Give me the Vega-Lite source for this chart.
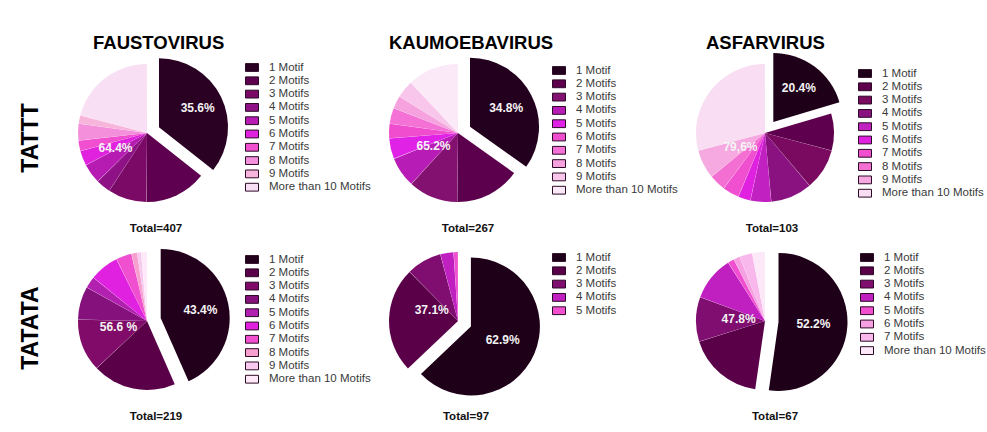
{
  "$schema": "https://vega.github.io/schema/vega-lite/v6.json",
  "background": "white",
  "padding": {"left": 2, "top": 34, "right": 0, "bottom": 0},
  "config": {
    "view": {"stroke": null},
    "font": "Liberation Sans",
    "title": {"font": "Liberation Sans", "fontSize": 18.5, "fontWeight": "bold", "color": "#000000", "anchor": "start", "offset": -2.5},
    "legend": {
      "orient": "right", "offset": 13, "padding": 0,
      "symbolType": "M-1,-0.6H1V0.6H-1Z", "symbolSize": 169,
      "symbolStrokeColor": "#2b0a26", "symbolStrokeWidth": 1,
      "labelFont": "Liberation Sans", "labelFontSize": 11.5, "labelColor": "#3a3a3a", "labelOffset": 10,
      "rowPadding": 0.3, "titleFontSize": 2, "labelLimit": 200
    }
  },
  "datasets": {
    "fT": [
      {"motif": "1 Motif", "k": 1, "n": 145}, {"motif": "2 Motifs", "k": 2, "n": 59}, {"motif": "3 Motifs", "k": 3, "n": 37},
      {"motif": "4 Motifs", "k": 4, "n": 14}, {"motif": "5 Motifs", "k": 5, "n": 19}, {"motif": "6 Motifs", "k": 6, "n": 14},
      {"motif": "7 Motifs", "k": 7, "n": 10}, {"motif": "8 Motifs", "k": 8, "n": 16}, {"motif": "9 Motifs", "k": 9, "n": 8},
      {"motif": "More than 10 Motifs", "k": 11, "n": 85}
    ],
    "kT": [
      {"motif": "1 Motif", "k": 1, "n": 93}, {"motif": "2 Motifs", "k": 2, "n": 41}, {"motif": "3 Motifs", "k": 3, "n": 31},
      {"motif": "4 Motifs", "k": 4, "n": 19}, {"motif": "5 Motifs", "k": 5, "n": 13}, {"motif": "6 Motifs", "k": 6, "n": 9},
      {"motif": "7 Motifs", "k": 7, "n": 10}, {"motif": "8 Motifs", "k": 8, "n": 8}, {"motif": "9 Motifs", "k": 9, "n": 11},
      {"motif": "More than 10 Motifs", "k": 11, "n": 32}
    ],
    "aT": [
      {"motif": "1 Motif", "k": 1, "n": 21}, {"motif": "2 Motifs", "k": 2, "n": 9}, {"motif": "3 Motifs", "k": 3, "n": 10},
      {"motif": "4 Motifs", "k": 4, "n": 10}, {"motif": "5 Motifs", "k": 5, "n": 5}, {"motif": "6 Motifs", "k": 6, "n": 3},
      {"motif": "7 Motifs", "k": 7, "n": 4}, {"motif": "8 Motifs", "k": 8, "n": 4}, {"motif": "9 Motifs", "k": 9, "n": 7},
      {"motif": "More than 10 Motifs", "k": 11, "n": 30}
    ],
    "fA": [
      {"motif": "1 Motif", "k": 1, "n": 95}, {"motif": "2 Motifs", "k": 2, "n": 43}, {"motif": "3 Motifs", "k": 3, "n": 27},
      {"motif": "4 Motifs", "k": 4, "n": 17}, {"motif": "5 Motifs", "k": 5, "n": 6}, {"motif": "6 Motifs", "k": 6, "n": 15},
      {"motif": "7 Motifs", "k": 7, "n": 8}, {"motif": "8 Motifs", "k": 8, "n": 3}, {"motif": "9 Motifs", "k": 9, "n": 2},
      {"motif": "More than 10 Motifs", "k": 11, "n": 3}
    ],
    "kA": [
      {"motif": "1 Motif", "k": 1, "n": 61}, {"motif": "2 Motifs", "k": 2, "n": 24}, {"motif": "3 Motifs", "k": 3, "n": 8},
      {"motif": "4 Motifs", "k": 4, "n": 3}, {"motif": "5 Motifs", "k": 5, "n": 1}
    ],
    "aA": [
      {"motif": "1 Motif", "k": 1, "n": 35}, {"motif": "2 Motifs", "k": 2, "n": 12}, {"motif": "3 Motifs", "k": 3, "n": 7},
      {"motif": "4 Motifs", "k": 4, "n": 7}, {"motif": "5 Motifs", "k": 5, "n": 1}, {"motif": "6 Motifs", "k": 6, "n": 1},
      {"motif": "7 Motifs", "k": 7, "n": 2}, {"motif": "More than 10 Motifs", "k": 11, "n": 2}
    ],
    "fTl": [{"g": "a", "n": 145, "lab": "35.6%"}, {"g": "b", "n": 262, "lab": "64.4%"}],
    "kTl": [{"g": "a", "n": 93, "lab": "34.8%"}, {"g": "b", "n": 174, "lab": "65.2%"}],
    "aTl": [{"g": "a", "n": 21, "lab": "20.4%"}, {"g": "b", "n": 82, "lab": "79,6%"}],
    "fAl": [{"g": "a", "n": 95, "lab": "43.4%"}, {"g": "b", "n": 124, "lab": "56.6 %"}],
    "kAl": [{"g": "a", "n": 61, "lab": "62.9%"}, {"g": "b", "n": 36, "lab": "37.1%"}],
    "aAl": [{"g": "a", "n": 35, "lab": "52.2%"}, {"g": "b", "n": 32, "lab": "47.8%"}]
  },
  "spacing": 2,
  "resolve": {"scale": {"color": "independent", "theta": "independent"}, "legend": {"color": "independent"}},
  "hconcat": [
    {
      "title": {"text": " "},
      "spacing": 3,
      "vconcat": [
        {"width": 58, "height": 166,
         "title": {"text": " ", "orient": "bottom", "anchor": "middle", "fontSize": 11.5, "offset": 6.6},
         "data": {"values": [{"seq": "TATTT"}]},
         "mark": {"type": "text", "angle": 270, "fontSize": 23, "fontWeight": "bold", "fill": "#000000", "dx": -5},
         "encoding": {"text": {"field": "seq", "type": "nominal"}}},
        {"width": 58, "height": 166,
         "title": {"text": " ", "orient": "bottom", "anchor": "middle", "fontSize": 11.5, "offset": 6.6},
         "data": {"values": [{"seq": "TATATA"}]},
         "mark": {"type": "text", "angle": 270, "fontSize": 23, "fontWeight": "bold", "fill": "#000000", "dx": -7},
         "encoding": {"text": {"field": "seq", "type": "nominal"}}}
      ]
    },
    {
      "title": {"text": "FAUSTOVIRUS", "dx": 31},
      "spacing": 3,
      "resolve": {"scale": {"color": "independent", "theta": "independent"}, "legend": {"color": "independent"}},
      "vconcat": [
        {"width": 170, "height": 166,
         "title": {"text": "Total=407", "orient": "bottom", "anchor": "middle", "dx": 9, "fontSize": 11.5, "color": "#111111", "offset": 6.6},
         "layer": [
           {"data": {"name": "fT"}, "transform": [{"stack": "n", "groupby": [], "sort": [{"field": "k"}], "as": ["s0", "s1"]}, {"filter": "datum.k > 1"}],
            "mark": {"type": "arc", "radius": 69, "padAngle": 0.004},
            "encoding": {"theta": {"field": "s0", "type": "quantitative", "scale": {"domain": [0, 407]}}, "theta2": {"field": "s1"},
              "color": {"field": "motif", "type": "nominal", "scale": {"domain": ["1 Motif","2 Motifs","3 Motifs","4 Motifs","5 Motifs","6 Motifs","7 Motifs","8 Motifs","9 Motifs","More than 10 Motifs"], "range": ["#2a0023","#5e004f","#7b0a67","#8e1285","#b61cb2","#e021dd","#f04fcf","#f48fdc","#f7b5dc","#f9dff3"]}, "legend": {"title": " ", "titlePadding": 8.5}}}},
           {"data": {"name": "fT"}, "transform": [{"stack": "n", "groupby": [], "sort": [{"field": "k"}], "as": ["s0", "s1"]}, {"filter": "datum.k == 1"}],
            "mark": {"type": "arc", "radius": 69, "xOffset": 12, "yOffset": -5.8},
            "encoding": {"theta": {"field": "s0", "type": "quantitative", "scale": {"domain": [0, 407]}}, "theta2": {"field": "s1"},
              "color": {"field": "motif", "type": "nominal", "scale": {"domain": ["1 Motif","2 Motifs","3 Motifs","4 Motifs","5 Motifs","6 Motifs","7 Motifs","8 Motifs","9 Motifs","More than 10 Motifs"], "range": ["#2a0023","#5e004f","#7b0a67","#8e1285","#b61cb2","#e021dd","#f04fcf","#f48fdc","#f7b5dc","#f9dff3"]}, "legend": {"title": " ", "titlePadding": 8.5}}}},
           {"data": {"name": "fTl"},
            "mark": {"type": "text", "radius": 43, "xOffset": 12, "yOffset": -5.8, "fill": "#f4f4f4", "fontSize": 12, "fontWeight": "bold"},
            "encoding": {"theta": {"field": "n", "type": "quantitative", "stack": true, "scale": {"domain": [0, 407]}}, "order": {"field": "g", "type": "ordinal"},
              "text": {"condition": {"test": "datum.g == 'a'", "field": "lab", "type": "nominal"}, "value": ""}}},
           {"data": {"name": "fTl"},
            "mark": {"type": "text", "radius": 35, "fill": "#f4f4f4", "fontSize": 12, "fontWeight": "bold"},
            "encoding": {"theta": {"field": "n", "type": "quantitative", "stack": true, "scale": {"domain": [0, 407]}}, "order": {"field": "g", "type": "ordinal"},
              "text": {"condition": {"test": "datum.g == 'b'", "field": "lab", "type": "nominal"}, "value": ""}}}
         ]},
        {"width": 170, "height": 166,
         "title": {"text": "Total=219", "orient": "bottom", "anchor": "middle", "dx": 9, "fontSize": 11.5, "color": "#111111", "offset": 6.6},
         "layer": [
           {"data": {"name": "fA"}, "transform": [{"stack": "n", "groupby": [], "sort": [{"field": "k"}], "as": ["s0", "s1"]}, {"filter": "datum.k > 1"}],
            "mark": {"type": "arc", "radius": 69, "padAngle": 0.004},
            "encoding": {"theta": {"field": "s0", "type": "quantitative", "scale": {"domain": [0, 219]}}, "theta2": {"field": "s1"},
              "color": {"field": "motif", "type": "nominal", "scale": {"domain": ["1 Motif","2 Motifs","3 Motifs","4 Motifs","5 Motifs","6 Motifs","7 Motifs","8 Motifs","9 Motifs","More than 10 Motifs"], "range": ["#22001c","#5a0049","#800b68","#84117c","#b220b0","#e021e0","#f04fd0","#f7a0cf","#f8c9ef","#fde9f8"]}, "legend": {"title": " ", "titlePadding": 12.5}}}},
           {"data": {"name": "fA"}, "transform": [{"stack": "n", "groupby": [], "sort": [{"field": "k"}], "as": ["s0", "s1"]}, {"filter": "datum.k == 1"}],
            "mark": {"type": "arc", "radius": 69, "xOffset": 13.7, "yOffset": -2.9},
            "encoding": {"theta": {"field": "s0", "type": "quantitative", "scale": {"domain": [0, 219]}}, "theta2": {"field": "s1"},
              "color": {"field": "motif", "type": "nominal", "scale": {"domain": ["1 Motif","2 Motifs","3 Motifs","4 Motifs","5 Motifs","6 Motifs","7 Motifs","8 Motifs","9 Motifs","More than 10 Motifs"], "range": ["#22001c","#5a0049","#800b68","#84117c","#b220b0","#e021e0","#f04fd0","#f7a0cf","#f8c9ef","#fde9f8"]}, "legend": {"title": " ", "titlePadding": 12.5}}}},
           {"data": {"name": "fAl"},
            "mark": {"type": "text", "radius": 40.6, "xOffset": 13.7, "yOffset": -2.9, "fill": "#f4f4f4", "fontSize": 12, "fontWeight": "bold"},
            "encoding": {"theta": {"field": "n", "type": "quantitative", "stack": true, "scale": {"domain": [0, 219]}}, "order": {"field": "g", "type": "ordinal"},
              "text": {"condition": {"test": "datum.g == 'a'", "field": "lab", "type": "nominal"}, "value": ""}}},
           {"data": {"name": "fAl"},
            "mark": {"type": "text", "radius": 29.2, "fill": "#f4f4f4", "fontSize": 12, "fontWeight": "bold"},
            "encoding": {"theta": {"field": "n", "type": "quantitative", "stack": true, "scale": {"domain": [0, 219]}}, "order": {"field": "g", "type": "ordinal"},
              "text": {"condition": {"test": "datum.g == 'b'", "field": "lab", "type": "nominal"}, "value": ""}}}
         ]}
      ]
    },
    {
      "title": {"text": "KAUMOEBAVIRUS", "dx": 16},
      "spacing": 3,
      "resolve": {"scale": {"color": "independent", "theta": "independent"}, "legend": {"color": "independent"}},
      "vconcat": [
        {"width": 170, "height": 166,
         "title": {"text": "Total=267", "orient": "bottom", "anchor": "middle", "dx": 10, "fontSize": 11.5, "color": "#111111", "offset": 6.6},
         "layer": [
           {"data": {"name": "kT"}, "transform": [{"stack": "n", "groupby": [], "sort": [{"field": "k"}], "as": ["s0", "s1"]}, {"filter": "datum.k > 1"}],
            "mark": {"type": "arc", "radius": 69, "padAngle": 0.004},
            "encoding": {"theta": {"field": "s0", "type": "quantitative", "scale": {"domain": [0, 267]}}, "theta2": {"field": "s1"},
              "color": {"field": "motif", "type": "nominal", "scale": {"domain": ["1 Motif","2 Motifs","3 Motifs","4 Motifs","5 Motifs","6 Motifs","7 Motifs","8 Motifs","9 Motifs","More than 10 Motifs"], "range": ["#24001f","#5c004d","#83116f","#b81cb6","#df22e5","#f04dce","#f472d6","#f5a2df","#f7c6ea","#fce9f8"]}, "legend": {"title": " ", "titlePadding": 11.5, "offset": 9}}}},
           {"data": {"name": "kT"}, "transform": [{"stack": "n", "groupby": [], "sort": [{"field": "k"}], "as": ["s0", "s1"]}, {"filter": "datum.k == 1"}],
            "mark": {"type": "arc", "radius": 69, "xOffset": 12, "yOffset": -6.2},
            "encoding": {"theta": {"field": "s0", "type": "quantitative", "scale": {"domain": [0, 267]}}, "theta2": {"field": "s1"},
              "color": {"field": "motif", "type": "nominal", "scale": {"domain": ["1 Motif","2 Motifs","3 Motifs","4 Motifs","5 Motifs","6 Motifs","7 Motifs","8 Motifs","9 Motifs","More than 10 Motifs"], "range": ["#24001f","#5c004d","#83116f","#b81cb6","#df22e5","#f04dce","#f472d6","#f5a2df","#f7c6ea","#fce9f8"]}, "legend": {"title": " ", "titlePadding": 11.5, "offset": 9}}}},
           {"data": {"name": "kTl"},
            "mark": {"type": "text", "radius": 40.7, "xOffset": 12, "yOffset": -6.2, "fill": "#f4f4f4", "fontSize": 12, "fontWeight": "bold"},
            "encoding": {"theta": {"field": "n", "type": "quantitative", "stack": true, "scale": {"domain": [0, 267]}}, "order": {"field": "g", "type": "ordinal"},
              "text": {"condition": {"test": "datum.g == 'a'", "field": "lab", "type": "nominal"}, "value": ""}}},
           {"data": {"name": "kTl"},
            "mark": {"type": "text", "radius": 27.6, "fill": "#f4f4f4", "fontSize": 12, "fontWeight": "bold"},
            "encoding": {"theta": {"field": "n", "type": "quantitative", "stack": true, "scale": {"domain": [0, 267]}}, "order": {"field": "g", "type": "ordinal"},
              "text": {"condition": {"test": "datum.g == 'b'", "field": "lab", "type": "nominal"}, "value": ""}}}
         ]},
        {"width": 170, "height": 166,
         "title": {"text": "Total=97", "orient": "bottom", "anchor": "middle", "dx": 8, "fontSize": 11.5, "color": "#111111", "offset": 6.6},
         "layer": [
           {"data": {"name": "kA"}, "transform": [{"stack": "n", "groupby": [], "sort": [{"field": "k"}], "as": ["s0", "s1"]}, {"filter": "datum.k > 1"}],
            "mark": {"type": "arc", "radius": 69, "padAngle": 0.004},
            "encoding": {"theta": {"field": "s0", "type": "quantitative", "scale": {"domain": [0, 97]}}, "theta2": {"field": "s1"},
              "color": {"field": "motif", "type": "nominal", "scale": {"domain": ["1 Motif","2 Motifs","3 Motifs","4 Motifs","5 Motifs"], "range": ["#1e0018","#5a0049","#800e70","#c020c0","#f050d0"]}, "legend": {"title": " ", "titlePadding": 10.5, "offset": 9}}}},
           {"data": {"name": "kA"}, "transform": [{"stack": "n", "groupby": [], "sort": [{"field": "k"}], "as": ["s0", "s1"]}, {"filter": "datum.k == 1"}],
            "mark": {"type": "arc", "radius": 69, "xOffset": 12.9, "yOffset": 5.5},
            "encoding": {"theta": {"field": "s0", "type": "quantitative", "scale": {"domain": [0, 97]}}, "theta2": {"field": "s1"},
              "color": {"field": "motif", "type": "nominal", "scale": {"domain": ["1 Motif","2 Motifs","3 Motifs","4 Motifs","5 Motifs"], "range": ["#1e0018","#5a0049","#800e70","#c020c0","#f050d0"]}, "legend": {"title": " ", "titlePadding": 10.5, "offset": 9}}}},
           {"data": {"name": "kAl"},
            "mark": {"type": "text", "radius": 34.6, "xOffset": 12.9, "yOffset": 5.5, "fill": "#f4f4f4", "fontSize": 12, "fontWeight": "bold"},
            "encoding": {"theta": {"field": "n", "type": "quantitative", "stack": true, "scale": {"domain": [0, 97]}}, "order": {"field": "g", "type": "ordinal"},
              "text": {"condition": {"test": "datum.g == 'a'", "field": "lab", "type": "nominal"}, "value": ""}}},
           {"data": {"name": "kAl"},
            "mark": {"type": "text", "radius": 28.6, "fill": "#f4f4f4", "fontSize": 12, "fontWeight": "bold"},
            "encoding": {"theta": {"field": "n", "type": "quantitative", "stack": true, "scale": {"domain": [0, 97]}}, "order": {"field": "g", "type": "ordinal"},
              "text": {"condition": {"test": "datum.g == 'b'", "field": "lab", "type": "nominal"}, "value": ""}}}
         ]}
      ]
    },
    {
      "title": {"text": "ASFARVIRUS", "dx": 26},
      "spacing": 3,
      "resolve": {"scale": {"color": "independent", "theta": "independent"}, "legend": {"color": "independent"}},
      "vconcat": [
        {"width": 170, "height": 166,
         "title": {"text": "Total=103", "orient": "bottom", "anchor": "middle", "dx": 7, "fontSize": 11.5, "color": "#111111", "offset": 6.6},
         "layer": [
           {"data": {"name": "aT"}, "transform": [{"stack": "n", "groupby": [], "sort": [{"field": "k"}], "as": ["s0", "s1"]}, {"filter": "datum.k > 1"}],
            "mark": {"type": "arc", "radius": 69, "padAngle": 0.004},
            "encoding": {"theta": {"field": "s0", "type": "quantitative", "scale": {"domain": [0, 103]}}, "theta2": {"field": "s1"},
              "color": {"field": "motif", "type": "nominal", "scale": {"domain": ["1 Motif","2 Motifs","3 Motifs","4 Motifs","5 Motifs","6 Motifs","7 Motifs","8 Motifs","9 Motifs","More than 10 Motifs"], "range": ["#1f0019","#5f004e","#790a5f","#891180","#c021c0","#e022e0","#f04fcf","#f36fd1","#f5a9e0","#f9ddf2"]}, "legend": {"title": " ", "titlePadding": 14.5, "offset": 8}}}},
           {"data": {"name": "aT"}, "transform": [{"stack": "n", "groupby": [], "sort": [{"field": "k"}], "as": ["s0", "s1"]}, {"filter": "datum.k == 1"}],
            "mark": {"type": "arc", "radius": 69, "xOffset": 8.3, "yOffset": -11.1},
            "encoding": {"theta": {"field": "s0", "type": "quantitative", "scale": {"domain": [0, 103]}}, "theta2": {"field": "s1"},
              "color": {"field": "motif", "type": "nominal", "scale": {"domain": ["1 Motif","2 Motifs","3 Motifs","4 Motifs","5 Motifs","6 Motifs","7 Motifs","8 Motifs","9 Motifs","More than 10 Motifs"], "range": ["#1f0019","#5f004e","#790a5f","#891180","#c021c0","#e022e0","#f04fcf","#f36fd1","#f5a9e0","#f9ddf2"]}, "legend": {"title": " ", "titlePadding": 14.5, "offset": 8}}}},
           {"data": {"name": "aTl"},
            "mark": {"type": "text", "radius": 42.7, "xOffset": 8.3, "yOffset": -11.1, "fill": "#f4f4f4", "fontSize": 12, "fontWeight": "bold"},
            "encoding": {"theta": {"field": "n", "type": "quantitative", "stack": true, "scale": {"domain": [0, 103]}}, "order": {"field": "g", "type": "ordinal"},
              "text": {"condition": {"test": "datum.g == 'a'", "field": "lab", "type": "nominal"}, "value": ""}}},
           {"data": {"name": "aTl"},
            "mark": {"type": "text", "radius": 26, "xOffset": -9, "yOffset": -7, "fill": "#f4f4f4", "fontSize": 12, "fontWeight": "bold"},
            "encoding": {"theta": {"field": "n", "type": "quantitative", "stack": true, "scale": {"domain": [0, 103]}}, "order": {"field": "g", "type": "ordinal"},
              "text": {"condition": {"test": "datum.g == 'b'", "field": "lab", "type": "nominal"}, "value": ""}}}
         ]},
        {"width": 170, "height": 166,
         "title": {"text": "Total=67", "orient": "bottom", "anchor": "middle", "dx": 10, "fontSize": 11.5, "color": "#111111", "offset": 6.6},
         "layer": [
           {"data": {"name": "aA"}, "transform": [{"stack": "n", "groupby": [], "sort": [{"field": "k"}], "as": ["s0", "s1"]}, {"filter": "datum.k > 1"}],
            "mark": {"type": "arc", "radius": 69, "padAngle": 0.004},
            "encoding": {"theta": {"field": "s0", "type": "quantitative", "scale": {"domain": [0, 67]}}, "theta2": {"field": "s1"},
              "color": {"field": "motif", "type": "nominal", "scale": {"domain": ["1 Motif","2 Motifs","3 Motifs","4 Motifs","5 Motifs","6 Motifs","7 Motifs","More than 10 Motifs"], "range": ["#1e0018","#5a0049","#800e70","#c020c0","#f050d0","#f5a0e0","#f8b8ec","#fce8f8"]}, "legend": {"title": " ", "titlePadding": 10.5, "offset": 10}}}},
           {"data": {"name": "aA"}, "transform": [{"stack": "n", "groupby": [], "sort": [{"field": "k"}], "as": ["s0", "s1"]}, {"filter": "datum.k == 1"}],
            "mark": {"type": "arc", "radius": 69, "xOffset": 13.5, "yOffset": 0.9},
            "encoding": {"theta": {"field": "s0", "type": "quantitative", "scale": {"domain": [0, 67]}}, "theta2": {"field": "s1"},
              "color": {"field": "motif", "type": "nominal", "scale": {"domain": ["1 Motif","2 Motifs","3 Motifs","4 Motifs","5 Motifs","6 Motifs","7 Motifs","More than 10 Motifs"], "range": ["#1e0018","#5a0049","#800e70","#c020c0","#f050d0","#f5a0e0","#f8b8ec","#fce8f8"]}, "legend": {"title": " ", "titlePadding": 10.5, "offset": 10}}}},
           {"data": {"name": "aAl"},
            "mark": {"type": "text", "radius": 35, "xOffset": 13.5, "yOffset": 0.9, "fill": "#f4f4f4", "fontSize": 12, "fontWeight": "bold"},
            "encoding": {"theta": {"field": "n", "type": "quantitative", "stack": true, "scale": {"domain": [0, 67]}}, "order": {"field": "g", "type": "ordinal"},
              "text": {"condition": {"test": "datum.g == 'a'", "field": "lab", "type": "nominal"}, "value": ""}}},
           {"data": {"name": "aAl"},
            "mark": {"type": "text", "radius": 26.5, "fill": "#f4f4f4", "fontSize": 12, "fontWeight": "bold"},
            "encoding": {"theta": {"field": "n", "type": "quantitative", "stack": true, "scale": {"domain": [0, 67]}}, "order": {"field": "g", "type": "ordinal"},
              "text": {"condition": {"test": "datum.g == 'b'", "field": "lab", "type": "nominal"}, "value": ""}}}
         ]}
      ]
    }
  ]
}
